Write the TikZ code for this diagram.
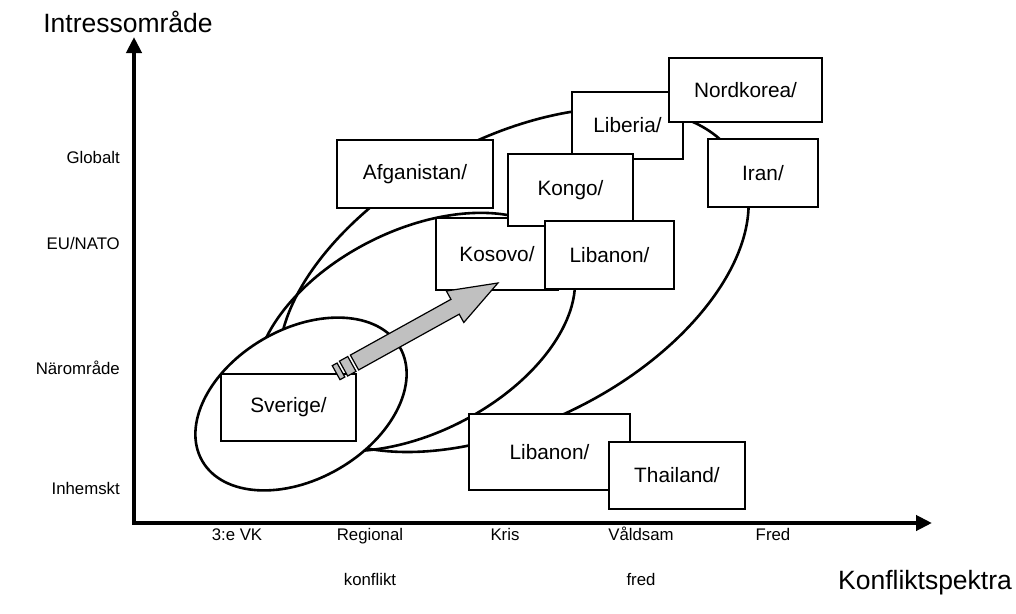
\documentclass[tikz,border=0pt]{standalone}
\usepackage{fontspec}
\setmainfont{Liberation Sans}
\usetikzlibrary{arrows.meta}
\definecolor{pilgra}{RGB}{192,192,192}

\begin{document}
\begin{tikzpicture}[x=1pt, y=-1pt]
        % Common styles
        \tikzstyle{achse}=[line width=4pt, {Triangle[length=16pt, width=15pt]}-{Triangle[length=16pt, width=15pt]}]
        \tikzstyle{ring}=[line width=2.6pt]
        \tikzstyle{land}=[draw, fill=white, line width=1.3pt, inner sep=0pt, font=\fontsize{20.8}{25}\selectfont]
        \tikzstyle{skala}=[inner sep=0pt, font=\fontsize{16.8}{45}\selectfont]
        \tikzstyle{spann}=[skala, anchor=north, align=center]
        \tikzstyle{titel}=[inner sep=0pt, font=\fontsize{26.5}{31}\selectfont]
        \tikzstyle{pil}=[draw, fill=pilgra, line width=1.2pt, line join=miter]

        \useasboundingbox (0,0) rectangle (1016,613);

        % --- Axes ---
        \coordinate (origo) at (134,523);
        \coordinate (ytopp) at (134,37);
        \coordinate (xtopp) at (932,523);
        \draw[achse] (ytopp) -- (origo) -- (xtopp);
        \node[titel] (yrubrik) at (128,22) {Intressområde};
        \node[titel] (xrubrik) at (925,583) {Konfliktspektra};

        % Levels (y axis)
        \node[skala, anchor=east] (globalt) at (120,157) {Globalt};
        \node[skala, anchor=east] (eunato) at (120,243) {EU/NATO};
        \node[skala, anchor=east] (naromrade) at (120,368) {Närområde};
        \node[skala, anchor=east] (inhemskt) at (120,488) {Inhemskt};

        % Spectrum (x axis)
        \node[spann] (vk) at (237,526) {\vphantom{Å}3:e VK};
        \node[spann] (regional) at (370,526) {\vphantom{Å}Regional\\konflikt};
        \node[spann] (kris) at (505,526) {\vphantom{Å}Kris};
        \node[spann] (valdsam) at (641,526) {\vphantom{Å}Våldsam\\fred};
        \node[spann] (fred) at (773,526) {\vphantom{Å}Fred};

        % --- Ellipses ---
        \begin{scope}[shift={(519,278)}, rotate=27.5]
            \draw[ring] (248,0) arc[start angle=0, end angle=90, x radius=248, y radius=142]
                arc[start angle=90, end angle=270, x radius=260, y radius=142]
                arc[start angle=270, end angle=360, x radius=248, y radius=142] -- cycle;
        \end{scope}
        \draw[ring, rotate around={27:(415,332)}] (415,332) ellipse (172 and 101);
        \filldraw[ring, fill=white, rotate around={30:(301,404)}] (301,404) ellipse (114 and 75);

        % --- Countries ---
        \node[land, minimum width=156pt, minimum height=68pt] (afganistan) at (415,174) {Afganistan/};
        \node[land, minimum width=111pt, minimum height=67pt] (liberia) at (627.5,125.5) {Liberia/};
        \node[land, minimum width=153pt, minimum height=64pt] (nordkorea) at (745.5,90) {Nordkorea/};
        \node[land, minimum width=122pt, minimum height=72pt] (kosovo) at (497,254) {Kosovo/};
        \node[land, minimum width=125pt, minimum height=72pt] (kongo) at (570.5,190) {Kongo/};
        \node[land, minimum width=129pt, minimum height=68pt] (libanon) at (609.5,255) {Libanon/};
        \node[land, minimum width=110pt, minimum height=68pt] (iran) at (763,173) {Iran/};
        \node[land, minimum width=135pt, minimum height=67pt] (sverige) at (288.5,407.5) {Sverige/};
        \node[land, minimum width=161pt, minimum height=76pt] (libanon2) at (549.5,452) {Libanon/};
        \node[land, minimum width=136pt, minimum height=67pt] (thailand) at (677,475.5) {Thailand/};

        % --- Striped arrow ---
        \coordinate (pilstart) at (354.5,362.5);
        \begin{scope}[shift={(pilstart)}, rotate=29]
            \filldraw[pil] (0,8.5) -- (115,8.5) -- (115,18) -- (164,0) -- (115,-18) -- (115,-8.5) -- (0,-8.5) -- cycle;
            \filldraw[pil] (-3,8.5) rectangle (-12.5,-8.5);
            \filldraw[pil] (-15.5,8) rectangle (-21,-8);
        \end{scope}

\end{tikzpicture}
\end{document}
